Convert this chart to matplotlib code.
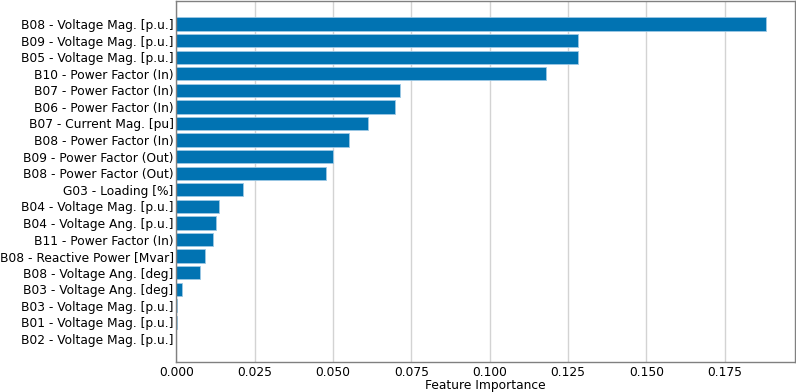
import matplotlib.pyplot as plt

features = [
    "B08 - Voltage Mag. [p.u.]",
    "B09 - Voltage Mag. [p.u.]",
    "B05 - Voltage Mag. [p.u.]",
    "B10 - Power Factor (In)",
    "B07 - Power Factor (In)",
    "B06 - Power Factor (In)",
    "B07 - Current Mag. [pu]",
    "B08 - Power Factor (In)",
    "B09 - Power Factor (Out)",
    "B08 - Power Factor (Out)",
    "G03 - Loading [%]",
    "B04 - Voltage Mag. [p.u.]",
    "B04 - Voltage Ang. [p.u.]",
    "B11 - Power Factor (In)",
    "B08 - Reactive Power [Mvar]",
    "B08 - Voltage Ang. [deg]",
    "B03 - Voltage Ang. [deg]",
    "B03 - Voltage Mag. [p.u.]",
    "B01 - Voltage Mag. [p.u.]",
    "B02 - Voltage Mag. [p.u.]",
]
importance = [
    0.1880, 0.1282, 0.1280, 0.1180, 0.0714, 0.0698, 0.0612, 0.0550,
    0.0501, 0.0478, 0.0213, 0.01345, 0.0126, 0.0117, 0.0091, 0.0075,
    0.0019, 0.0001, 0.00005, 0.0,
]

fig = plt.figure(figsize=(7.96, 3.92), dpi=100)
ax = fig.add_axes([0.2217, 0.0765, 0.777, 0.921])

y = range(len(features))
ax.barh(y, importance, height=0.8, color='#0173b2', edgecolor='#9cc8e4', linewidth=0.6)
ax.set_yticks(list(y))
ax.set_yticklabels(features, fontsize=8.8)
ax.invert_yaxis()
ax.set_xlabel("Feature Importance", fontsize=8.8, labelpad=0)
ax.xaxis.set_label_coords(0.5, -0.046)
ax.tick_params(axis='x', labelsize=8.8, length=0, pad=3)
ax.tick_params(axis='y', length=0, pad=2)
ax.set_axisbelow(True)
ax.grid(axis='x', color='#d3d3d3', linewidth=1)
for s in ax.spines.values():
    s.set_color('#808080')
    s.set_linewidth(1)

fig.savefig("out.png", dpi=100)
